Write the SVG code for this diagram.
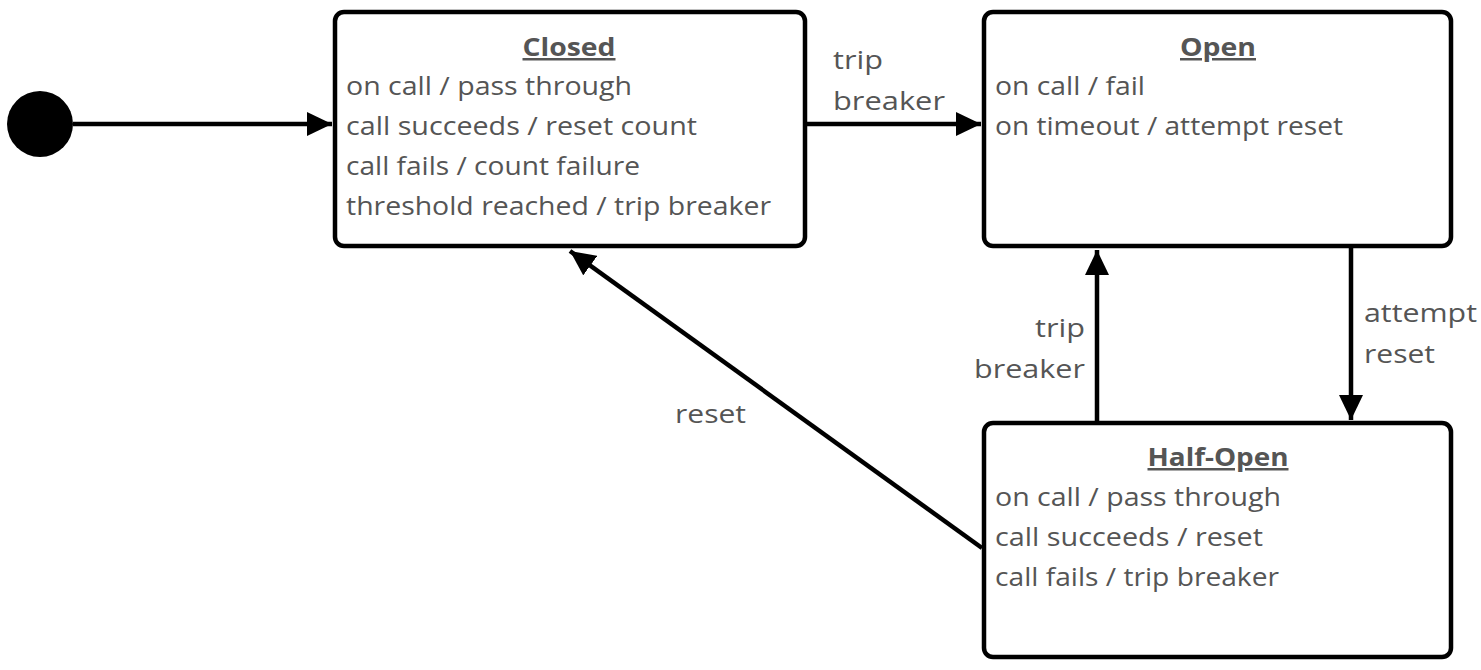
<svg xmlns="http://www.w3.org/2000/svg" width="1481" height="670" viewBox="0 0 1481 670">
<style>
.box{fill:#fff;stroke:#000;stroke-width:4.5}
.t{font-family:"Open Sans","Noto Sans",sans-serif;font-size:25px;fill:#555}
.title{font-weight:bold;text-decoration:underline;text-anchor:middle}
.edge{stroke:#000;stroke-width:4.5;fill:none;marker-end:url(#ah)}
</style>
<defs>
<marker id="ah" markerUnits="userSpaceOnUse" markerWidth="26" markerHeight="24" refX="25" refY="12" orient="auto">
<path d="M0,0 L25,12 L0,24 z" fill="#000"/>
</marker>
</defs>
<rect width="1481" height="670" fill="#fff"/>
<g id="initial"><circle cx="40" cy="124" r="33" fill="#000"/></g>
<g id="closed">
<rect class="box" x="335" y="12" width="470" height="234" rx="9"/>
<text class="t title" x="569" y="56" textLength="93" lengthAdjust="spacingAndGlyphs">Closed</text>
<text class="t" x="346" y="95" textLength="286" lengthAdjust="spacingAndGlyphs">on call / pass through</text>
<text class="t" x="346" y="135" textLength="351" lengthAdjust="spacingAndGlyphs">call succeeds / reset count</text>
<text class="t" x="346" y="175" textLength="294" lengthAdjust="spacingAndGlyphs">call fails / count failure</text>
<text class="t" x="346" y="215" textLength="425" lengthAdjust="spacingAndGlyphs">threshold reached / trip breaker</text>
</g>
<g id="open">
<rect class="box" x="984" y="12" width="467" height="234" rx="9"/>
<text class="t title" x="1218" y="56" textLength="76" lengthAdjust="spacingAndGlyphs">Open</text>
<text class="t" x="995" y="95" textLength="150" lengthAdjust="spacingAndGlyphs">on call / fail</text>
<text class="t" x="995" y="135" textLength="348" lengthAdjust="spacingAndGlyphs">on timeout / attempt reset</text>
</g>
<g id="halfopen">
<rect class="box" x="984" y="423" width="467" height="234" rx="9"/>
<text class="t title" x="1218" y="466" textLength="141" lengthAdjust="spacingAndGlyphs">Half-Open</text>
<text class="t" x="995" y="506" textLength="286" lengthAdjust="spacingAndGlyphs">on call / pass through</text>
<text class="t" x="995" y="546" textLength="268" lengthAdjust="spacingAndGlyphs">call succeeds / reset</text>
<text class="t" x="995" y="586" textLength="284" lengthAdjust="spacingAndGlyphs">call fails / trip breaker</text>
</g>
<g id="connectors">
<line class="edge" x1="73" y1="124" x2="332" y2="124"/>
<line class="edge" x1="807" y1="124" x2="981" y2="124"/>
<line class="edge" x1="1351" y1="248" x2="1351" y2="420"/>
<line class="edge" x1="1097" y1="421" x2="1097" y2="250"/>
<line class="edge" x1="982" y1="548" x2="570" y2="251"/>
<text class="t" x="833" y="69" textLength="50" lengthAdjust="spacingAndGlyphs">trip</text>
<text class="t" x="833" y="110" textLength="112" lengthAdjust="spacingAndGlyphs">breaker</text>
<text class="t" x="1364" y="322" textLength="113" lengthAdjust="spacingAndGlyphs">attempt</text>
<text class="t" x="1364" y="363" textLength="71" lengthAdjust="spacingAndGlyphs">reset</text>
<text class="t" x="1035" y="337" textLength="50" lengthAdjust="spacingAndGlyphs">trip</text>
<text class="t" x="974" y="378" textLength="111" lengthAdjust="spacingAndGlyphs">breaker</text>
<text class="t" x="675" y="423" textLength="71" lengthAdjust="spacingAndGlyphs">reset</text>
</g>
</svg>
